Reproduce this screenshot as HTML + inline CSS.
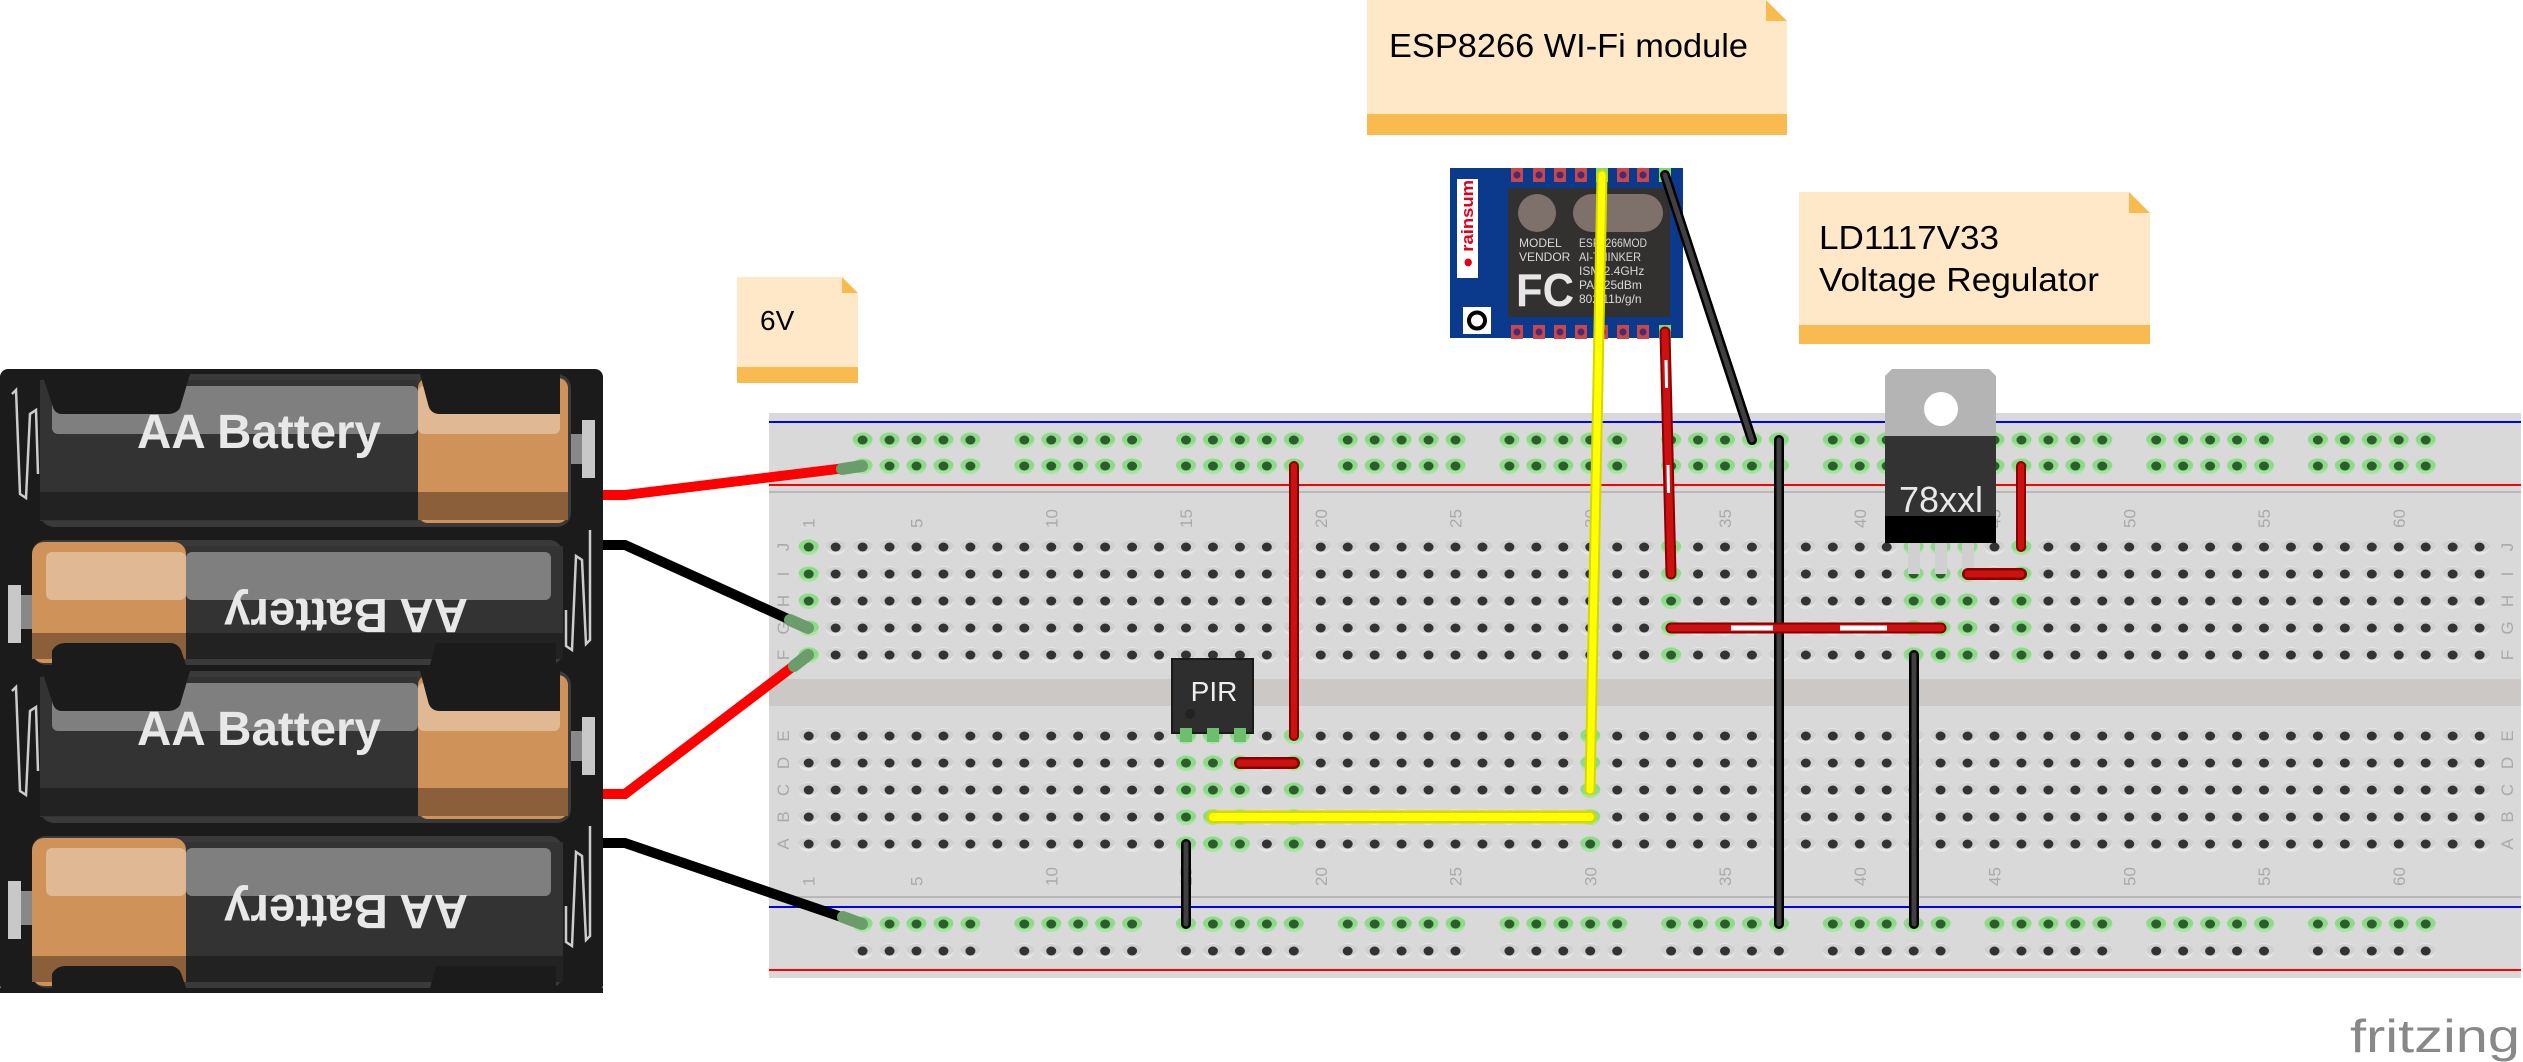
<!DOCTYPE html>
<html><head><meta charset="utf-8">
<style>
html,body{margin:0;padding:0;background:#fff;}
svg{display:block;}
text{font-family:"Liberation Sans",sans-serif;}
</style></head>
<body>
<svg id="s" xmlns="http://www.w3.org/2000/svg" width="2523" height="1062" viewBox="0 0 2523 1062">
<rect width="2523" height="1062" fill="#fff"/>
<rect x="769" y="413" width="1752" height="565" fill="#d9d9d9"/>
<rect x="769" y="679" width="1752" height="27" fill="#cbc8c6"/>
<line x1="769" y1="422" x2="2521" y2="422" stroke="#0000ff" stroke-width="2"/>
<line x1="769" y1="485" x2="2521" y2="485" stroke="#ff0000" stroke-width="2"/>
<line x1="769" y1="492" x2="2521" y2="492" stroke="#b8b8b8" stroke-width="2"/>
<line x1="769" y1="897" x2="2521" y2="897" stroke="#b8b8b8" stroke-width="2"/>
<line x1="769" y1="907" x2="2521" y2="907" stroke="#0000ff" stroke-width="2"/>
<line x1="769" y1="970" x2="2521" y2="970" stroke="#ff0000" stroke-width="2"/>
<g id="holes"></g>
<g id="labels" fill="#aaaaaa" font-size="17"></g>

<g id="bat"></g>

<g>
<path d="M737 277 H842 L858 293 V383 H737 Z" fill="#fee8c8"/>
<path d="M842 277 L858 293 H842 Z" fill="#f9bb4f"/>
<rect x="737" y="367" width="121" height="16" fill="#f9bb4f"/>
<text x="760" y="330" font-size="28" fill="#000">6V</text>

<path d="M1367 0 H1766 L1787 21 V135 H1367 Z" fill="#fee8c8"/>
<path d="M1766 0 L1787 21 H1766 Z" fill="#f9bb4f"/>
<rect x="1367" y="114" width="420" height="21" fill="#f9bb4f"/>
<text x="1389" y="57" font-size="33" fill="#000" textLength="359" lengthAdjust="spacingAndGlyphs">ESP8266 WI-Fi module</text>

<path d="M1799 192 H2129 L2150 213 V344 H1799 Z" fill="#fee8c8"/>
<path d="M2129 192 L2150 213 H2129 Z" fill="#f9bb4f"/>
<rect x="1799" y="325" width="351" height="19" fill="#f9bb4f"/>
<text x="1819" y="249" font-size="33" fill="#000" textLength="180" lengthAdjust="spacingAndGlyphs">LD1117V33</text>
<text x="1819" y="291" font-size="33" fill="#000" textLength="280" lengthAdjust="spacingAndGlyphs">Voltage Regulator</text>
</g>

<g>
<rect x="1450" y="168" width="233" height="170" fill="#0b3a8c"/>
<rect x="1508" y="188" width="162" height="129" fill="#333030"/>
<circle cx="1537" cy="213" r="19" fill="#7e716b"/>
<rect x="1573" y="194" width="90" height="38" rx="19" fill="#7e716b"/>
<g font-size="12" fill="#d8d8d8">
<text x="1519" y="247">MODEL</text><text x="1519" y="261">VENDOR</text>
<text x="1579" y="247" textLength="68" lengthAdjust="spacingAndGlyphs">ESP8266MOD</text><text x="1579" y="261" textLength="62" lengthAdjust="spacingAndGlyphs">AI-THINKER</text>
<text x="1579" y="275">ISM 2.4GHz</text><text x="1579" y="289">PA +25dBm</text>
<text x="1579" y="303">802.11b/g/n</text>
</g>
<text x="1516" y="306" font-size="46" font-weight="bold" fill="#e6e6e6" textLength="58" lengthAdjust="spacingAndGlyphs">FC</text>
<rect x="1457" y="179" width="21" height="99" fill="#fff"/>
<text transform="translate(1473,268) rotate(-90)" font-size="17" font-weight="bold" fill="#e3001b" textLength="88" lengthAdjust="spacingAndGlyphs">● rainsum</text>
<rect x="1463" y="307" width="28" height="27" fill="#fff"/>
<circle cx="1477" cy="320.5" r="8" fill="none" stroke="#000" stroke-width="4"/>
<g id="pins"></g>
</g>

<g>
<path d="M1885 376 L1892 369 H1989 L1996 376 V436 H1885 Z" fill="#b4b4b4"/>
<circle cx="1941" cy="409" r="17" fill="#fff"/>
<rect x="1885" y="436" width="111" height="84" fill="#333"/>
<rect x="1885" y="516" width="111" height="27" fill="#000"/>
<text x="1941" y="512" font-size="36" fill="#e8e8e8" text-anchor="middle">78xxl</text>
<rect x="1908" y="543" width="12" height="31" fill="#d0d0d0"/>
<rect x="1935" y="543" width="12" height="31" fill="#d0d0d0"/>
<rect x="1962" y="543" width="12" height="31" fill="#d0d0d0"/>
</g>

<g>
<rect x="1172" y="659" width="81" height="74" fill="#2e2e2e" stroke="#1a1a1a" stroke-width="2"/>
<rect x="1180" y="728" width="12" height="14" fill="#6cbf6c"/>
<rect x="1207" y="728" width="12" height="14" fill="#6cbf6c"/>
<rect x="1234" y="728" width="12" height="14" fill="#6cbf6c"/>
<circle cx="1190" cy="714" r="5" fill="#222"/>
<text x="1214" y="701" font-size="28" fill="#eee" text-anchor="middle" font-family="Liberation Mono,monospace">PIR</text>
</g>

<g stroke-linecap="round" fill="none">
<polyline points="603,495 625,495 862,466" stroke="#ff0000" stroke-width="10" stroke-linecap="butt"/>
<polyline points="603,545 625,545 808,628" stroke="#000" stroke-width="10" stroke-linecap="butt"/>
<polyline points="603,794 625,794 808,655" stroke="#ff0000" stroke-width="10" stroke-linecap="butt"/>
<polyline points="603,843 625,843 862,924" stroke="#000" stroke-width="10" stroke-linecap="butt"/>
<line x1="842" y1="469" x2="862" y2="466" stroke="#6a9d6a" stroke-width="12"/>
<line x1="790" y1="620" x2="808" y2="628" stroke="#6a9d6a" stroke-width="12"/>
<line x1="794" y1="666" x2="808" y2="655" stroke="#6a9d6a" stroke-width="12"/>
<line x1="843" y1="917" x2="862" y2="924" stroke="#6a9d6a" stroke-width="12"/>

<line x1="1602" y1="175" x2="1590" y2="790" stroke="#d6d600" stroke-width="11"/>
<line x1="1602" y1="175" x2="1590" y2="790" stroke="#ffff00" stroke-width="7"/>
<line x1="1213" y1="817" x2="1590" y2="817" stroke="#d6d600" stroke-width="13"/>
<line x1="1213" y1="817" x2="1590" y2="817" stroke="#ffff00" stroke-width="8"/>

<line x1="1665" y1="175" x2="1752" y2="440" stroke="#000" stroke-width="10"/>
<line x1="1665" y1="175" x2="1752" y2="440" stroke="#404040" stroke-width="5"/>
<line x1="1779" y1="440" x2="1779" y2="924" stroke="#000" stroke-width="10"/>
<line x1="1779" y1="440" x2="1779" y2="924" stroke="#404040" stroke-width="5"/>
<line x1="1914" y1="655" x2="1914" y2="924" stroke="#000" stroke-width="10"/>
<line x1="1914" y1="655" x2="1914" y2="924" stroke="#404040" stroke-width="5"/>
<line x1="1186" y1="844" x2="1186" y2="924" stroke="#000" stroke-width="10"/>
<line x1="1186" y1="844" x2="1186" y2="924" stroke="#404040" stroke-width="5"/>

<line x1="1665" y1="332" x2="1671" y2="574" stroke="#8b0000" stroke-width="11"/>
<line x1="1665" y1="332" x2="1671" y2="574" stroke="#cc1111" stroke-width="7"/>
<line x1="1666" y1="360" x2="1666.5" y2="388" stroke="#fff" stroke-width="3" stroke-linecap="butt"/>
<line x1="1668" y1="465" x2="1668.5" y2="493" stroke="#fff" stroke-width="3" stroke-linecap="butt"/>
<line x1="1671" y1="628" x2="1941" y2="628" stroke="#8b0000" stroke-width="11"/>
<line x1="1671" y1="628" x2="1941" y2="628" stroke="#cc1111" stroke-width="7"/>
<line x1="1731" y1="628" x2="1773" y2="628" stroke="#fff" stroke-width="5" stroke-linecap="butt"/>
<line x1="1840" y1="628" x2="1887" y2="628" stroke="#fff" stroke-width="5" stroke-linecap="butt"/>
<line x1="1294" y1="466" x2="1294" y2="736" stroke="#8b0000" stroke-width="10"/>
<line x1="1294" y1="466" x2="1294" y2="736" stroke="#cc1111" stroke-width="6"/>
<line x1="1240" y1="763" x2="1294" y2="763" stroke="#8b0000" stroke-width="12"/>
<line x1="1240" y1="763" x2="1294" y2="763" stroke="#cc1111" stroke-width="7"/>
<line x1="2021" y1="466" x2="2021" y2="547" stroke="#8b0000" stroke-width="10"/>
<line x1="2021" y1="466" x2="2021" y2="547" stroke="#cc1111" stroke-width="6"/>
<line x1="1968" y1="574" x2="2021" y2="574" stroke="#8b0000" stroke-width="12"/>
<line x1="1968" y1="574" x2="2021" y2="574" stroke="#cc1111" stroke-width="7"/>
</g>

<text x="2350" y="1052" font-size="46" fill="#888" font-family="Liberation Mono,monospace" textLength="170" lengthAdjust="spacingAndGlyphs">fritzing</text>
</svg>
<script>
(function(){
var NS="http://www.w3.org/2000/svg";
function el(p,t,a,txt){var e=document.createElementNS(NS,t);for(var k in a)e.setAttribute(k,a[k]);if(txt!=null)e.textContent=txt;p.appendChild(e);return e;}
var H=document.getElementById("holes");
function cx(c){return 808.7+(c-1)*26.95;}
function hole(x,y,g){
 el(H,"ellipse",{cx:x,cy:y,rx:10,ry:8,fill:g?"#a5e6a0":"#e6e6e6"});
 el(H,"ellipse",{cx:x,cy:y-1,rx:10,ry:6,fill:g?"#8fd98a":"#d0d0d0"});
 el(H,"ellipse",{cx:x,cy:y,rx:5,ry:4.5,fill:g?"#2c5e2c":"#333"});
}
var topG={1:1,33:1,42:1,43:1,44:1,46:1};
var botG={15:1,16:1,17:1,19:1,30:1};
var rowsT=[547,574,601,628,655],rowsB=[736,763,790,817,844];
for(var c=1;c<=63;c++){
 for(var i=0;i<5;i++){hole(cx(c),rowsT[i],topG[c]);hole(cx(c),rowsB[i],botG[c]);}
 var m=(c-3)%6;
 if(c>=3&&c<=61&&m<5){hole(cx(c),440,1);hole(cx(c),466,1);hole(cx(c),924,1);hole(cx(c),951,0);}
}
var L=document.getElementById("labels");
[1,5,10,15,20,25,30,35,40,45,50,55,60].forEach(function(n){
 el(L,"text",{transform:"translate("+(cx(n)+6)+",528) rotate(-90)"},String(n));
 el(L,"text",{transform:"translate("+(cx(n)+6)+",886) rotate(-90)"},String(n));
});
var lt="JIHGF",lb="EDCBA";
for(var i=0;i<5;i++){
 el(L,"text",{transform:"translate(789,"+rowsT[i]+") rotate(-90)","text-anchor":"middle"},lt[i]);
 el(L,"text",{transform:"translate(2513,"+rowsT[i]+") rotate(-90)","text-anchor":"middle"},lt[i]);
 el(L,"text",{transform:"translate(789,"+rowsB[i]+") rotate(-90)","text-anchor":"middle"},lb[i]);
 el(L,"text",{transform:"translate(2513,"+rowsB[i]+") rotate(-90)","text-anchor":"middle"},lb[i]);
}
var P=document.getElementById("pins");
[1517,1539,1560,1581,1602,1623,1643,1665].forEach(function(x,i){
 [[168,182],[325,339]].forEach(function(r,j){
  var g=(j==0&&(i==4||i==7))||(j==1&&i==7);
  el(P,"rect",{x:x-6,y:r[0],width:12,height:14,fill:g?"#7ddc6a":"#c8474f"});
  el(P,"circle",{cx:x,cy:(r[0]+r[1])/2,r:3.5,fill:g?"#2c5e2c":"#4a2b6a"});
 });
});
var B=document.getElementById("bat");
el(B,"rect",{x:0,y:369,width:603,height:624,rx:8,fill:"#1b1b1b"});
function cell(y,h,flip){
 var g=el(B,"g",{});
 if(!flip){
  el(g,"rect",{x:40,y:y,width:531,height:h,rx:14,fill:"#3a3a3a"});
  el(g,"rect",{x:40,y:y+6,width:378,height:h-12,fill:"#333"});
  el(g,"rect",{x:52,y:y+12,width:366,height:48,rx:6,fill:"#7f7f7f"});
  el(g,"rect",{x:40,y:y+h-35,width:378,height:28,fill:"#222"});
  el(g,"rect",{x:418,y:y+4,width:150,height:h-8,rx:10,fill:"#cf935a"});
  el(g,"rect",{x:418,y:y+12,width:142,height:48,rx:6,fill:"#e0b894"});
  el(g,"rect",{x:418,y:y+h-35,width:150,height:28,fill:"#8a5f3a"});
  el(g,"path",{d:"M42 "+y+" H190 L180 "+(y+34)+" Q176 "+(y+40)+" 168 "+(y+40)+" H62 Q54 "+(y+40)+" 52 "+(y+30)+" Z",fill:"#1b1b1b"});
  el(g,"path",{d:"M420 "+y+" H560 V"+(y+40)+" H440 Q430 "+(y+40)+" 428 "+(y+30)+" Z",fill:"#1b1b1b"});
  el(g,"rect",{x:582,y:y+46,width:13,height:58,fill:"#c8c8c8"});
  el(g,"rect",{x:571,y:y+60,width:11,height:30,fill:"#888"});
  el(g,"text",{x:259,y:y+74,"font-size":"48","font-weight":"bold",fill:"#e8e8e8","text-anchor":"middle",textLength:"244",lengthAdjust:"spacingAndGlyphs"},"AA Battery");
  el(g,"polyline",{points:"12,"+(y+20)+" 16,"+(y+16)+" 20,"+(y+120)+" 26,"+(y+124)+" 30,"+(y+40)+" 36,"+(y+36)+" 38,"+(y+100),fill:"none",stroke:"#ccc","stroke-width":"2.5"});
 } else {
  el(g,"rect",{x:32,y:y,width:531,height:h,rx:14,fill:"#3a3a3a"});
  el(g,"rect",{x:186,y:y+6,width:377,height:h-12,fill:"#333"});
  el(g,"rect",{x:186,y:y+12,width:365,height:48,rx:6,fill:"#7f7f7f"});
  el(g,"rect",{x:186,y:y+h-32,width:377,height:26,fill:"#222"});
  el(g,"rect",{x:32,y:y+2,width:154,height:h-4,rx:12,fill:"#cf935a"});
  el(g,"rect",{x:46,y:y+12,width:140,height:48,rx:6,fill:"#e0b894"});
  el(g,"rect",{x:32,y:y+h-32,width:154,height:26,fill:"#8a5f3a"});
  el(g,"path",{d:"M52 "+(y+h)+" V"+(y+h-14)+" Q56 "+(y+h-22)+" 66 "+(y+h-22)+" H172 Q180 "+(y+h-20)+" 182 "+(y+h-12)+" L186 "+(y+h)+" Z",fill:"#1b1b1b"});
  el(g,"path",{d:"M430 "+(y+h)+" L436 "+(y+h-22)+" H556 V"+(y+h)+" Z",fill:"#1b1b1b"});
  el(g,"rect",{x:8,y:y+45,width:13,height:58,fill:"#c8c8c8"});
  el(g,"rect",{x:21,y:y+55,width:11,height:34,fill:"#888"});
  el(g,"text",{transform:"translate(346,"+(y+59)+") rotate(180)","font-size":"48","font-weight":"bold",fill:"#e8e8e8","text-anchor":"middle",textLength:"244",lengthAdjust:"spacingAndGlyphs"},"AA Battery");
  el(g,"polyline",{points:"590,"+(y-10)+" 590,"+(y+100)+" 586,"+(y+104)+" 582,"+(y+20)+" 576,"+(y+16)+" 572,"+(y+110)+" 566,"+(y+106)+" 566,"+(y+70),fill:"none",stroke:"#ccc","stroke-width":"2.5"});
 }
}
cell(374,153,false);
cell(540,125,true);
cell(671,152,false);
cell(836,152,true);
el(B,"rect",{x:0,y:988,width:603,height:5,fill:"#1b1b1b"});
})();
</script>
</body></html>
